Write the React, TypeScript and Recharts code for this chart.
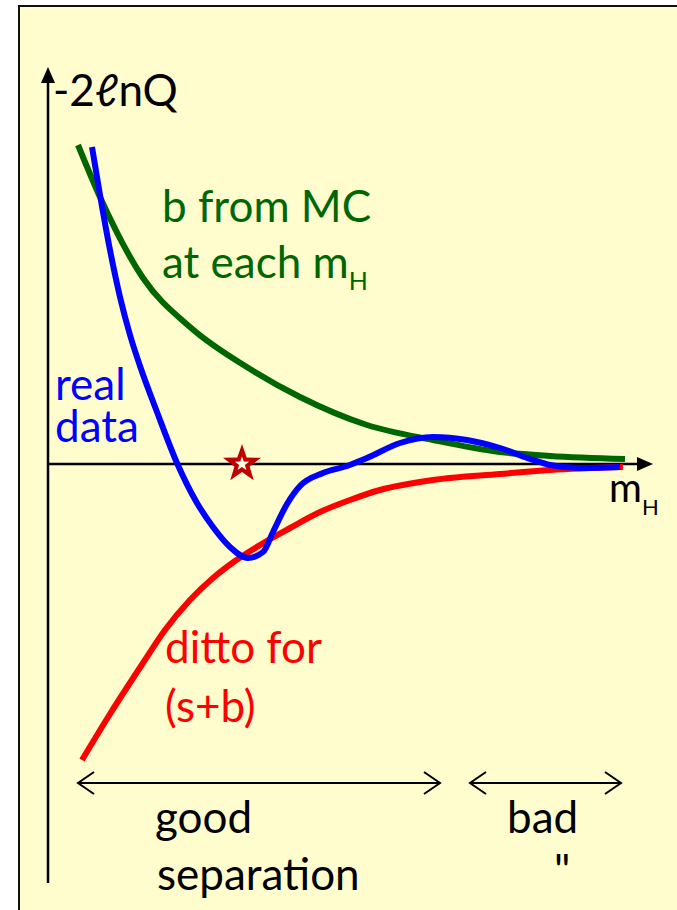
import { ComposedChart, Line, Scatter, XAxis, YAxis, ReferenceLine } from "recharts";

// -2lnQ against m_H, both in arbitrary units (schematic)
const bFromMc = [
  { m: 6, q: 31.9 },
  { m: 10.4, q: 26.7 },
  { m: 19, q: 18.6 },
  { m: 28.4, q: 13.7 },
  { m: 40.4, q: 9.5 },
  { m: 50.4, q: 6.7 },
  { m: 63.8, q: 3.9 },
  { m: 77, q: 2.4 },
  { m: 90.4, q: 1.2 },
  { m: 100.4, q: 0.8 },
  { m: 115.4, q: 0.5 },
];

const realData = [
  { m: 8.8, q: 31.7 },
  { m: 10.4, q: 26.9 },
  { m: 12.4, q: 21.4 },
  { m: 14.4, q: 16.7 },
  { m: 16.4, q: 12.9 },
  { m: 18.4, q: 9.8 },
  { m: 21.8, q: 5.2 },
  { m: 25.8, q: 0.1 },
  { m: 29.8, q: -3.9 },
  { m: 33, q: -6.3 },
  { m: 36.4, q: -8.3 },
  { m: 40, q: -9.4 },
  { m: 43, q: -8.8 },
  { m: 45, q: -6.8 },
  { m: 47.8, q: -4 },
  { m: 50.4, q: -2.2 },
  { m: 55, q: -0.9 },
  { m: 59.8, q: -0.2 },
  { m: 63.8, q: 0.6 },
  { m: 70.4, q: 2.1 },
  { m: 77, q: 2.7 },
  { m: 83.8, q: 2.4 },
  { m: 90.4, q: 1.6 },
  { m: 97, q: 0.4 },
  { m: 100.4, q: -0.1 },
  { m: 106.4, q: -0.4 },
  { m: 114.4, q: -0.3 },
];

const sPlusB = [
  { m: 6.8, q: -29.6 },
  { m: 12.4, q: -25 },
  { m: 19, q: -19.9 },
  { m: 23.4, q: -16.6 },
  { m: 28.4, q: -13.6 },
  { m: 33, q: -11.4 },
  { m: 37.4, q: -9.7 },
  { m: 42.4, q: -8.1 },
  { m: 48.4, q: -6.4 },
  { m: 54.4, q: -4.8 },
  { m: 60.4, q: -3.6 },
  { m: 66.4, q: -2.6 },
  { m: 77, q: -1.6 },
  { m: 90.4, q: -1 },
  { m: 100.4, q: -0.6 },
  { m: 115, q: -0.3 },
];

const starMark = [{ m: 38.8, q: 0 }];

const goodRange = [6, 78.4];
const badRange = [84.4, 114.6];
const rangeLevel = -31.9;

const M_MAX = 121;
const Q_MIN = -42;
const Q_MAX = 40;

const FONT = "Lato, 'Open Sans', sans-serif";
const GREEN = "#006600";
const BLUE = "#0000ff";
const RED = "#ff0000";

function starPoints(cx: number, cy: number, outer: number, inner: number) {
  const pts: string[] = [];
  for (let i = 0; i < 10; i++) {
    const a = ((-90 + i * 36) * Math.PI) / 180;
    const r = i % 2 === 0 ? outer : inner;
    pts.push(`${cx + r * Math.cos(a)},${cy + r * Math.sin(a)}`);
  }
  return pts.join(" ");
}

const StarShape = (props: any) => {
  const { cx, cy } = props;
  return (
    <g>
      <polygon points={starPoints(cx, cy, 20, 8)} fill="#c00000" />
      <polygon points={starPoints(cx, cy, 7.5, 3)} fill="#fffde6" />
    </g>
  );
};

// axis line with a filled head at the (x2, y2) end
const AxisArrow = (props: any) => {
  const { x1, y1, x2, y2 } = props;
  const len = Math.hypot(x2 - x1, y2 - y1);
  const ux = (x2 - x1) / len;
  const uy = (y2 - y1) / len;
  const head = 16;
  const half = 7;
  const bx = x2 - ux * head;
  const by = y2 - uy * head;
  return (
    <g>
      <line x1={x1} y1={y1} x2={bx} y2={by} stroke="#000" strokeWidth={2.5} />
      <polygon
        points={`${x2},${y2} ${bx - uy * half},${by + ux * half} ${bx + uy * half},${by - ux * half}`}
        fill="#000"
      />
    </g>
  );
};

// range marker with open heads at both ends
const RangeArrow = (props: any) => {
  const { x1, y1, x2, y2 } = props;
  const dx = 16;
  const dy = 11;
  return (
    <g fill="none" stroke="#000" strokeWidth={2}>
      <line x1={x1} y1={y1} x2={x2} y2={y2} />
      <polyline points={`${x1 + dx},${y1 - dy} ${x1},${y1} ${x1 + dx},${y1 + dy}`} />
      <polyline points={`${x2 - dx},${y2 - dy} ${x2},${y2} ${x2 - dx},${y2 + dy}`} />
    </g>
  );
};

export default function App() {
  return (
    <div style={{ position: "absolute", left: 0, top: 0, width: 677, height: 910, background: "#fff", overflow: "hidden" }}>
      <div
        style={{
          position: "absolute",
          left: 18,
          top: 5,
          width: 700,
          height: 950,
          background: "#fffdcd",
          border: "2px solid #111",
        }}
      />
      <div style={{ position: "absolute", left: 0, top: 0 }}>
        <ComposedChart width={677} height={910} margin={{ top: 64, right: 24, bottom: 26, left: 48 }}>
          <XAxis type="number" dataKey="m" domain={[0, M_MAX]} allowDataOverflow hide />
          <YAxis type="number" dataKey="q" domain={[Q_MIN, Q_MAX]} allowDataOverflow hide />

          <ReferenceLine
            segment={[{ x: 0, y: Q_MIN + 0.1 }, { x: 0, y: Q_MAX - 0.3 }]}
            ifOverflow="visible"
            shape={AxisArrow}
          />
          <ReferenceLine segment={[{ x: 0, y: 0 }, { x: M_MAX, y: 0 }]} ifOverflow="visible" shape={AxisArrow} />
          <ReferenceLine
            segment={[{ x: goodRange[0], y: rangeLevel }, { x: goodRange[1], y: rangeLevel }]}
            ifOverflow="visible"
            shape={RangeArrow}
          />
          <ReferenceLine
            segment={[{ x: badRange[0], y: rangeLevel }, { x: badRange[1], y: rangeLevel }]}
            ifOverflow="visible"
            shape={RangeArrow}
          />

          <Line data={sPlusB} dataKey="q" type="monotone" stroke={RED} strokeWidth={6} dot={false} isAnimationActive={false} />
          <Line data={bFromMc} dataKey="q" type="monotone" stroke={GREEN} strokeWidth={6} dot={false} isAnimationActive={false} />
          <Line data={realData} dataKey="q" type="monotone" stroke={BLUE} strokeWidth={6} dot={false} isAnimationActive={false} />
          <Scatter data={starMark} dataKey="q" shape={StarShape} isAnimationActive={false} />
        </ComposedChart>
      </div>

      <svg width={677} height={910} style={{ position: "absolute", left: 0, top: 0, pointerEvents: "none" }} fontFamily={FONT} fontSize={44}>
        <text x={53} y={106} fill="#000">-2ℓnQ</text>

        <text x={162} y={222} fill={GREEN}>
          <tspan x={162}>b from MC</tspan>
          <tspan x={162} dy={56}>at each m</tspan>
          <tspan fontSize={25} dy={12}>H</tspan>
        </text>

        <text x={55} y={400} fill={BLUE}>
          <tspan x={55}>real</tspan>
          <tspan x={55} dy={42}>data</tspan>
        </text>

        <text x={165} y={663} fill={RED}>
          <tspan x={165}>ditto for</tspan>
          <tspan x={165} dy={59}>(s+b)</tspan>
        </text>

        <text x={609} y={502} fill="#000" fontSize={40}>
          m<tspan fontSize={22} dy={13}>H</tspan>
        </text>

        <text x={155} y={833} fill="#000">
          <tspan x={155}>good</tspan>
          <tspan x={157} dy={57}>separation</tspan>
        </text>
        <text x={507} y={833} fill="#000">bad</text>
        <text x={554} y={886} fill="#000">"</text>
      </svg>
    </div>
  );
}
